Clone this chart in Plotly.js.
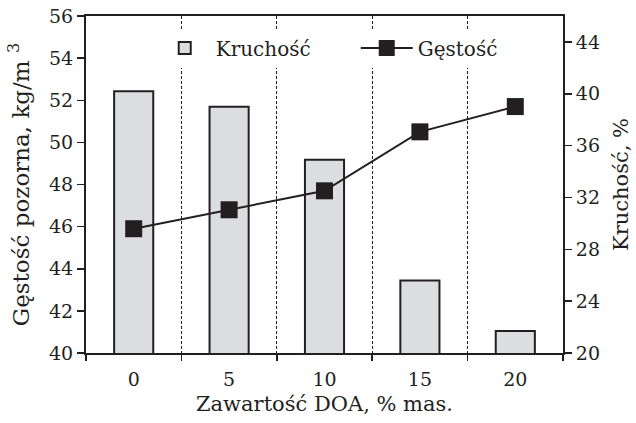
<!DOCTYPE html>
<html>
<head>
<meta charset="utf-8">
<script src="https://cdn.plot.ly/plotly-3.0.1.min.js"></script>
<style>html,body{margin:0;padding:0;background:#fff}#chart{width:636px;height:423px}</style>
</head>
<body>
<div id="chart"></div>
<script>
const categories = ['0', '5', '10', '15', '20'];
const kruchosc = [40.2, 39.0, 34.9, 25.6, 21.7];
const gestosc = [45.9, 46.8, 47.7, 50.5, 51.7];

const FONT = 'DejaVu Serif';
const ink = '#231f20';
const tickFont = {family: FONT, size: 19, color: ink};
const legendFont = {family: FONT, size: 20, color: ink};

const traces = [
  {
    type: 'bar', name: 'Kruchość', x: categories, y: kruchosc,
    yaxis: 'y', width: 0.41,
    marker: {color: '#dcdddf', line: {color: ink, width: 2}}
  },
  {
    type: 'scatter', mode: 'lines+markers', name: 'Gęstość', x: categories, y: gestosc,
    yaxis: 'y2',
    line: {color: ink, width: 2},
    marker: {symbol: 'square', size: 17, color: ink}
  }
];

const layout = {
  width: 636, height: 423,
  margin: {l: 86, r: 73, t: 16, b: 70},
  paper_bgcolor: '#fff', plot_bgcolor: '#fff',
  font: tickFont,
  showlegend: true,
  legend: {
    orientation: 'h', x: 0.142, y: 0.905, xanchor: 'left', yanchor: 'middle',
    bgcolor: '#fff', font: legendFont, itemwidth: 52,
    entrywidth: 135, entrywidthmode: 'pixels'
  },
  xaxis: {
    type: 'category', range: [-0.5, 4.5],
    tickson: 'boundaries', ticks: 'outside', ticklen: 6, tickwidth: 1.5, tickcolor: ink,
    ticklabelstandoff: 8,
    showgrid: true, gridcolor: ink, gridwidth: 1, griddash: '3px,2px',
    showline: true, linecolor: ink, linewidth: 2, mirror: true,
    tickfont: tickFont, zeroline: false,
    title: {text: 'Zawartość DOA, % mas.', font: {family: FONT, size: 21, color: ink}, standoff: 8}
  },
  yaxis: {
    side: 'right', range: [20, 46], tick0: 20, dtick: 4,
    ticks: 'outside', ticklen: 7, tickwidth: 1.5, tickcolor: ink,
    showgrid: false, zeroline: false,
    showline: true, linecolor: ink, linewidth: 2,
    tickfont: tickFont,
    title: {text: 'Kruchość, %', font: {family: FONT, size: 21, color: ink}, standoff: 14}
  },
  yaxis2: {
    overlaying: 'y', side: 'left', range: [40, 56], tick0: 40, dtick: 2,
    ticks: 'outside', ticklen: 7, tickwidth: 1.5, tickcolor: ink,
    showgrid: false, zeroline: false,
    showline: true, linecolor: ink, linewidth: 2,
    tickfont: tickFont,
    title: {text: 'Gęstość pozorna, kg/m <sup>3</sup>', font: {family: FONT, size: 23, color: ink}, standoff: 13}
  }
};

Plotly.newPlot('chart', traces, layout, {displayModeBar: false, staticPlot: true});
</script>
</body>
</html>
